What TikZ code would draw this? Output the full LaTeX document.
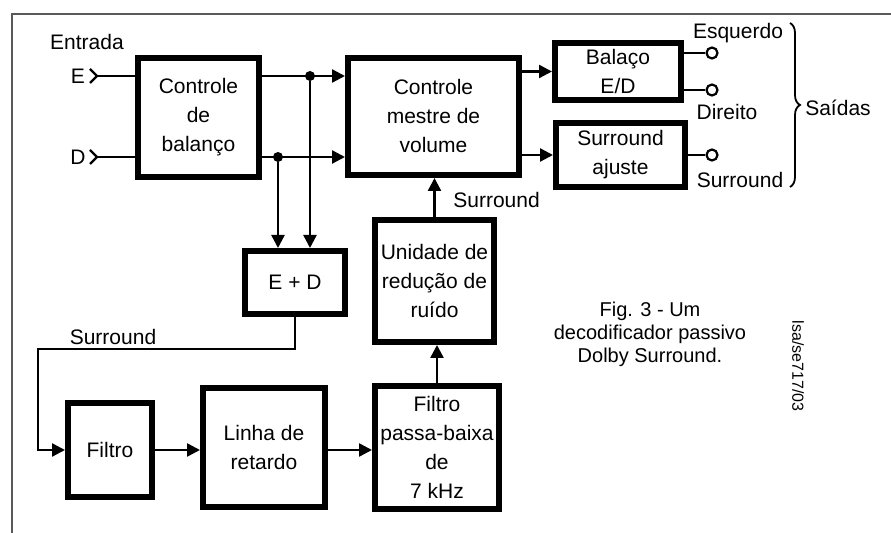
\documentclass[tikz,border=0pt]{standalone}
\usepackage{fontspec}
\setmainfont{Liberation Sans}
\usetikzlibrary{arrows.meta,decorations.pathreplacing}

\newcommand{\fbloco}{\fontsize{10.5}{14.5}\selectfont}

\tikzset{
  bloco/.style={draw, line width=3pt, align=center, font=\fbloco, inner sep=0pt},
  liga/.style={line width=1.2pt},
  seta/.style={liga, -{Triangle[length=6.5pt,width=6.5pt]}},
  saida/.style={circle, draw, fill=white, line width=1.1pt, inner sep=0pt, minimum size=5.5pt},
  ponto/.style={circle, fill, inner sep=0pt, minimum size=5pt},
  rotulo/.style={font=\fbloco, inner sep=0pt}
}

\begin{document}
\begin{tikzpicture}[x=0.5pt, y=-0.5pt]
    \useasboundingbox (0,0) rectangle (891,533);
    % moldura
    \draw[gray!70!black, line width=0.75pt] (12,533) -- (12,14) -- (891,14);

    % blocos
    \node[bloco, minimum width=60.5pt, minimum height=59.5pt] (bal) at (198.5,117.5) {Controle\\de\\balanço};
    \node[bloco, minimum width=85.5pt, minimum height=58.5pt] (mestre) at (433.5,116.5) {Controle\\mestre de\\volume};
    \node[bloco, minimum width=63pt, minimum height=28.5pt] (lr) at (618,71.5) {Balaço\\E/D};
    \node[bloco, minimum width=64.5pt, minimum height=32pt] (ajuste) at (620.5,155) {Surround\\ajuste};
    \node[bloco, minimum width=50pt, minimum height=31.5pt] (ed) at (295,282.5) {E + D};
    \node[bloco, minimum width=59.5pt, minimum height=61pt] (unr) at (434.5,281) {Unidade de\\redução de\\ruído};
    \node[bloco, minimum width=62pt, minimum height=61.5pt] (fpb) at (437,447.5) {Filtro\\passa-baixa\\de\\7 kHz};
    \node[bloco, minimum width=42pt, minimum height=47pt] (filtro) at (110,450) {Filtro};
    \node[bloco, minimum width=61pt, minimum height=59.5pt] (linha) at (264,447.5) {Linha de\\retardo};

    % entradas
    \node[rotulo] (entrada) at (87,42) {Entrada};
    \node[rotulo] (le) at (78,76) {E};
    \node[rotulo] (ld) at (78,157) {D};
    \coordinate (ein) at (97,76);
    \coordinate (din) at (97,157);
    \draw[liga] (90,69) -- (ein) -- (90,83);
    \draw[liga] (90,150) -- (din) -- (90,164);
    \draw[liga] (ein) -- (bal.west |- ein);
    \draw[liga] (din) -- (bal.west |- din);

    % ligacoes principais
    \coordinate (jE) at (310,76);
    \coordinate (jD) at (278,157);
    \draw[seta] (bal.east |- jE) -- (mestre.west |- jE);
    \draw[seta] (bal.east |- jD) -- (mestre.west |- jD);
    \node[ponto] (pE) at (jE) {};
    \node[ponto] (pD) at (jD) {};
    \draw[seta] (pE) -- (jE |- ed.north);
    \draw[seta] (pD) -- (jD |- ed.north);
    \draw[seta] (mestre.east |- lr.west) -- (lr.west);
    \draw[seta] (mestre.east |- ajuste.west) -- (ajuste.west);
    \draw[seta] (unr.north) -- (unr.north |- mestre.south);
    \draw[seta] (fpb.north) -- (fpb.north |- unr.south);
    \node[rotulo, anchor=west] (sur1) at (453,200) {Surround};

    % saidas
    \node[saida] (oE) at (712,53) {};
    \node[saida] (oD) at (712,90) {};
    \node[saida] (oS) at (712,155) {};
    \draw[liga] (lr.east |- oE) -- (oE);
    \draw[liga] (lr.east |- oD) -- (oD);
    \draw[liga] (ajuste.east |- oS) -- (oS);
    \node[rotulo] (esq) at (738,33) {Esquerdo};
    \node[rotulo] (dir) at (727,112) {Direito};
    \node[rotulo] (sur2) at (740,180) {Surround};
    \draw[line width=0.9pt, decorate, decoration={brace, amplitude=5pt}] (790,23) -- (790,187);
    \node[rotulo] (saidas) at (838,108) {Saídas};

    % ramo surround
    \coordinate (dobra) at (38,349);
    \draw[seta] (ed.south) |- (dobra) |- (filtro.west);
    \node[rotulo] (sur3) at (113,337) {Surround};
    \draw[seta] (filtro.east) -- (filtro.east -| linha.west);
    \draw[seta] (linha.east |- filtro.east) -- (fpb.west |- filtro.east);

    % legenda
    \node[align=center, font=\fontsize{10}{11.5}\selectfont] (legenda) at (650,334) {Fig. 3 - Um\\decodificador passivo\\Dolby Surround.};
    \node[rotate=-90, font=\fontsize{8}{9}\selectfont] (ref) at (798,366) {lsa/se717/03};
\end{tikzpicture}
\end{document}
